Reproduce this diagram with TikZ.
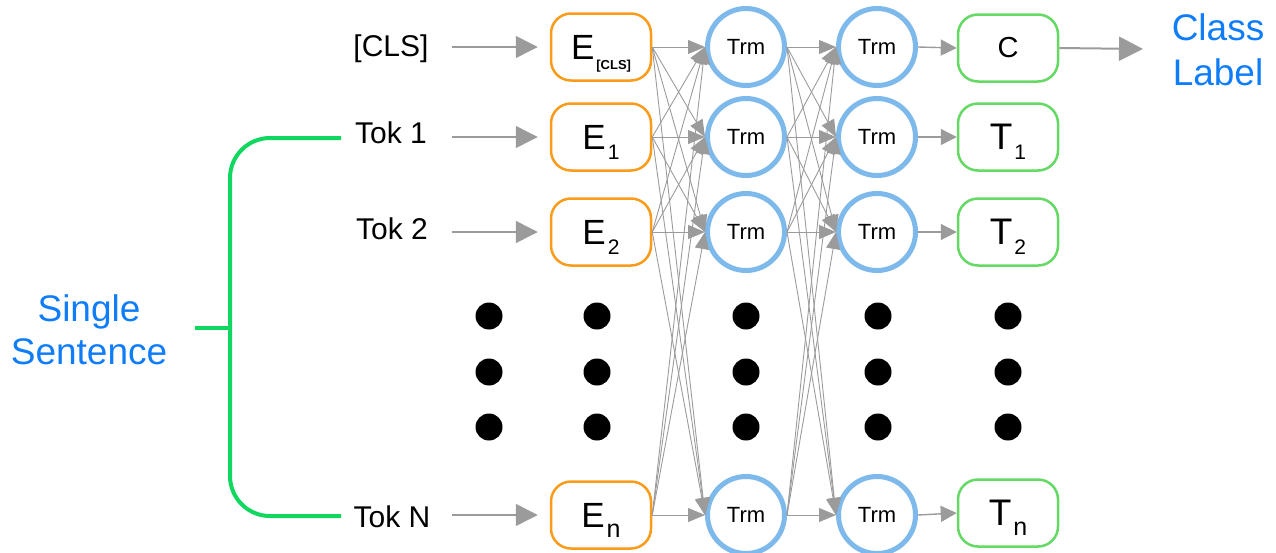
\documentclass[tikz,border=0pt]{standalone}
\usepackage{fontspec}
\setmainfont{Liberation Sans}
\usetikzlibrary{arrows.meta}
\definecolor{eorange}{RGB}{250,155,25}
\definecolor{tblue}{RGB}{125,185,235}
\definecolor{ogreen}{RGB}{100,218,100}
\definecolor{bgreen}{RGB}{15,215,95}
\definecolor{lblue}{RGB}{15,125,250}
\definecolor{agray}{RGB}{155,155,155}
\newcommand{\fsz}[1]{\fontsize{#1}{#1}\selectfont}
% letter size, letter, sub size, sub
\newcommand{\lab}[4]{{\fsz{#1}#2}\raisebox{-10pt}[0pt][0pt]{\hspace{2pt}\fsz{#3}#4}}
\begin{document}
\begin{tikzpicture}[x=1pt,y=-1pt,
  ebox/.style={draw=eorange, line width=2.5pt, rounded corners=20pt, minimum width=100pt, minimum height=67pt, fill=white, inner sep=0pt},
  obox/.style={ebox, draw=ogreen},
  trm/.style={circle, draw=tblue, line width=5pt, minimum size=77pt, inner sep=0pt, fill=white, font=\fsz{22}},
  dotn/.style={circle, fill=black, minimum size=27pt, inner sep=0pt},
  tok/.style={font=\fsz{30}, text height=21.5pt, text depth=0pt, inner sep=0pt},
  bluetext/.style={text=lblue, font=\fsz{37}, align=center},
  arr/.style={-{Triangle[length=22pt,width=22pt]}, draw=agray, line width=1.5pt},
  xarr/.style={-{Triangle[length=17pt,width=14pt]}, draw=agray, line width=0.9pt},
  oarr/.style={-{Triangle[length=16pt,width=16pt]}, draw=agray, line width=1.4pt},
  carr/.style={-{Triangle[length=24pt,width=24pt]}, draw=agray, line width=2pt},
  brk/.style={draw=bgreen, line width=4pt}
]
\useasboundingbox (0,0) rectangle (1276,552);

% tokens
\node[tok] (t0) at (391,46) {[CLS]};
\node[tok] (t1) at (391,133) {Tok 1};
\node[tok] (t2) at (392,229) {Tok 2};
\node[tok] (t3) at (392,517) {Tok N};

% embeddings
\node[ebox] (e0) at (601,47) {\lab{35}{E}{13}{\bfseries [CLS]}};
\node[ebox] (e1) at (601,137) {\lab{35}{E}{21}{1}};
\node[ebox] (e2) at (601,232) {\lab{35}{E}{21}{2}};
\node[ebox] (e3) at (601,515) {\lab{35}{E}{25}{n}};

% transformer layers
\node[trm] (a0) at (746,47) {Trm};
\node[trm] (a1) at (746,137) {Trm};
\node[trm] (a2) at (746,232) {Trm};
\node[trm] (a3) at (746,515) {Trm};
\node[trm] (b0) at (877,47) {Trm};
\node[trm] (b1) at (877,137) {Trm};
\node[trm] (b2) at (877,232) {Trm};
\node[trm] (b3) at (877,515) {Trm};

% cross connections
\foreach \i in {0,...,3}{
  \foreach \j in {0,...,3}{
    \draw[xarr] (e\i.east) -- (a\j.west);
    \draw[xarr] (a\i.east) -- (b\j.west);
  }
}

% outputs
\node[obox] (o0) at (1008,48) {{\fsz{29}C}};
\node[obox] (o1) at (1008,137) {\lab{37}{T}{21}{1}};
\node[obox] (o2) at (1008,232) {\lab{37}{T}{21}{2}};
\node[obox] (o3) at (1008,513) {\lab{37}{T}{25}{n}};

\foreach \i in {0,...,3}{
  \draw[arr] ([xshift=-98pt]e\i.west) -- ([xshift=-12pt]e\i.west);
  \draw[oarr] (b\i.east) -- (o\i.west);
}

% class label
\node[bluetext] (cls) at (1218,50) {Class\\[8pt]Label};
\coordinate (cend) at (1143,49);
\draw[carr] (o0.east) -- (cend);

% dots
\foreach \x in {489,597,746,878,1008}{
  \foreach \y in {316,372,427}{
    \node[dotn] (d-\x-\y) at (\x,\y) {};
  }
}

% bracket
\coordinate (bt) at (341,138);
\coordinate (bb) at (341,516);
\coordinate (bm) at (230,328);
\coordinate (bl) at (195,328);
\draw[brk, rounded corners=40pt] (bt) -- (230,138) -- (230,516) -- (bb);
\draw[brk] (bl) -- (bm);
\node[bluetext] (ss) at (89,330) {Single\\[6pt]Sentence};
\end{tikzpicture}
\end{document}
